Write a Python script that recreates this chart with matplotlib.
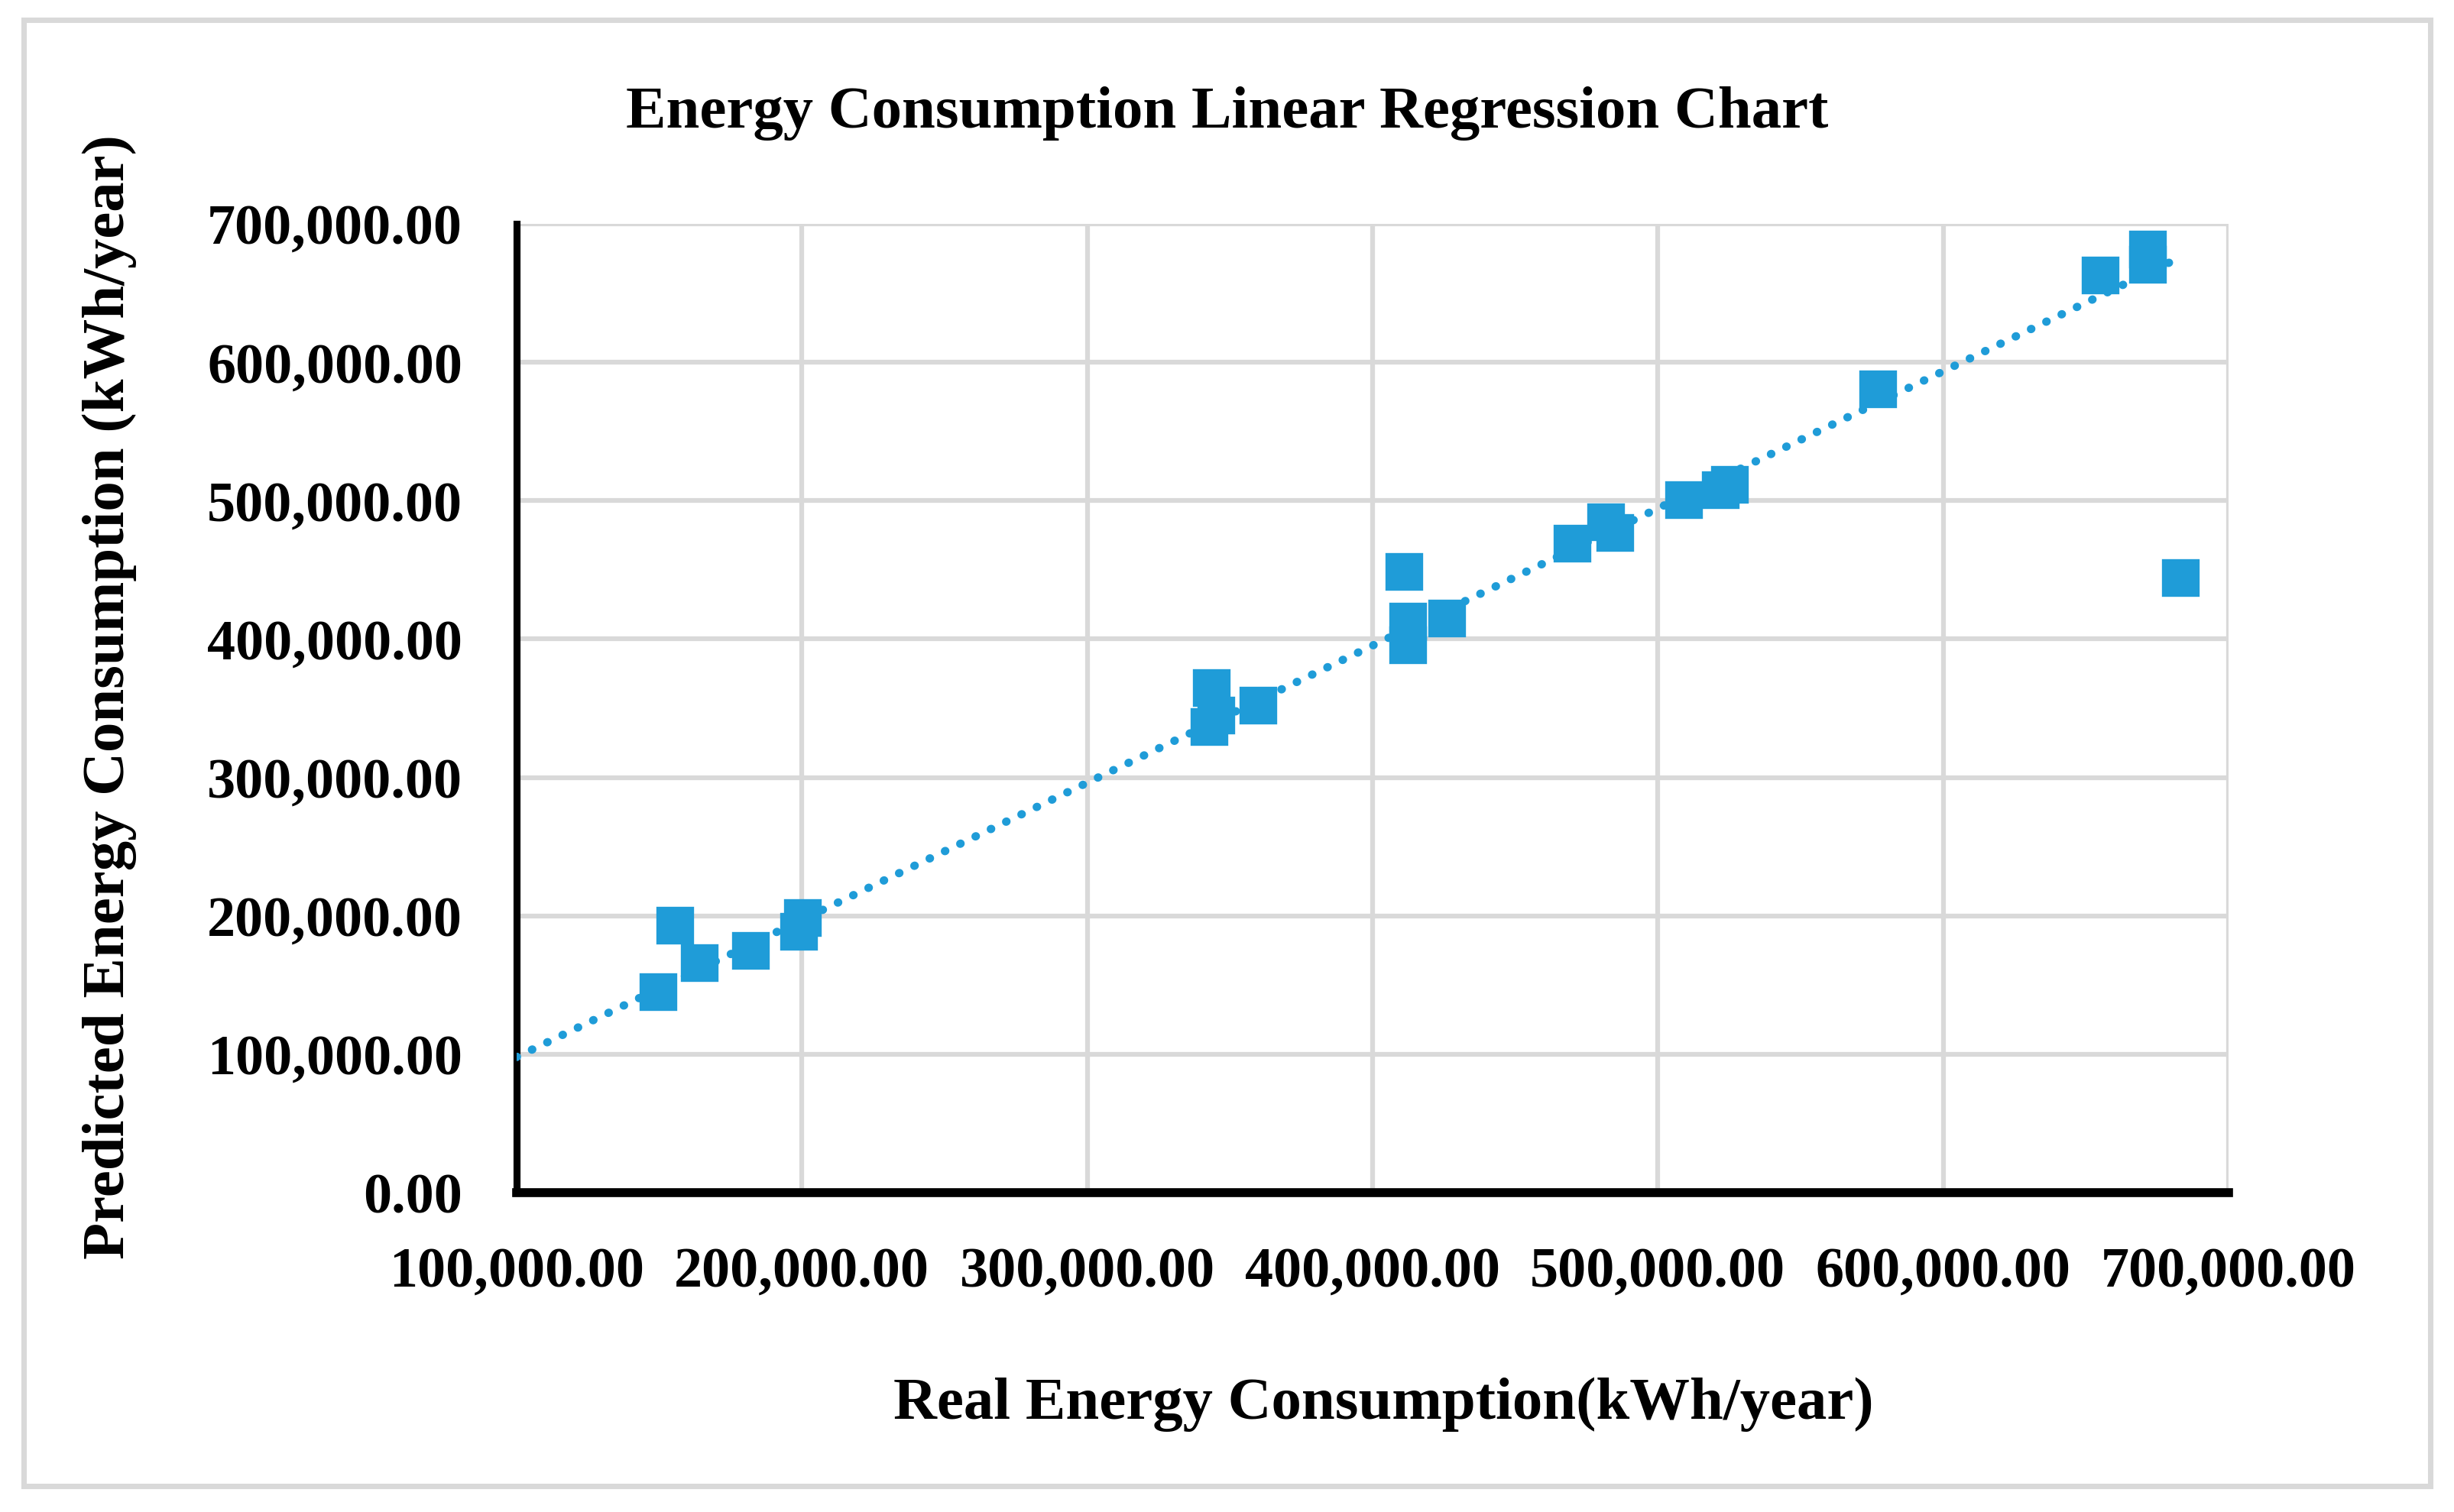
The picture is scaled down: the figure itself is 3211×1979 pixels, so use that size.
import numpy as np
import matplotlib
matplotlib.use("Agg")
import matplotlib.pyplot as plt
from matplotlib.patches import Rectangle
from matplotlib.ticker import FuncFormatter, MultipleLocator

# ---- data ----
real_kwh = [149600, 155500, 163900, 182000, 198800, 200200,
            342600, 345000, 343600, 359700,
            410900, 412300, 412300, 426000,
            470000, 481700, 485000, 509000, 522000, 525000,
            577000, 655000, 671600, 671600, 683000]
pred_kwh = [145000, 193000, 166000, 175000, 189000, 198500,
            337000, 345000, 365000, 352000,
            449000, 396000, 413000, 415000,
            469000, 484600, 477000, 500500, 508000, 512000,
            581000, 663000, 671000, 682000, 444500]
# linear trendline
trend_slope = 0.991
trend_intercept = -1100
trend_x_range = [100000, 680000]

title = "Energy Consumption Linear Regression Chart"
xlabel = "Real Energy Consumption(kWh/year)"
ylabel = "Predicted Energy Consumption (kWh/year)"
x_lim = (100000, 700000)
y_lim = (0, 700000)
tick_step = 100000

blue = "#1F9CD8"
grid_gray = "#D9D9D9"
font = ["Liberation Serif", "DejaVu Serif"]

plt.rcParams["font.family"] = font
plt.rcParams["font.weight"] = "bold"

W, H, DPI = 3211, 1979, 300
fig = plt.figure(figsize=(W / DPI, H / DPI), dpi=DPI)
fig.patch.set_facecolor("white")

# outer border
fig.patches.append(Rectangle((31 / W, 1 - 1945 / H), (3180 - 31) / W, (1945 - 26) / H,
                             transform=fig.transFigure, fill=False,
                             edgecolor=grid_gray, linewidth=1.7))

ax = fig.add_axes([676 / W, 1 - 1561 / H, (2916 - 676) / W, (1561 - 293) / H])

x = np.array(real_kwh, dtype=float)
y = np.array(pred_kwh, dtype=float)
tx = np.array(trend_x_range, dtype=float)
ax.plot(tx, trend_slope * tx + trend_intercept, color=blue, linewidth=2.6,
        linestyle=(0, (0.05, 2.0)), dash_capstyle="round", zorder=3)

ax.plot(x, y, linestyle="none", marker="s", markersize=11, color=blue,
        markeredgecolor=blue, markeredgewidth=0.8, zorder=4)

ax.set_xlim(*x_lim)
ax.set_ylim(*y_lim)
ax.xaxis.set_major_locator(MultipleLocator(tick_step))
ax.yaxis.set_major_locator(MultipleLocator(tick_step))
fmt = FuncFormatter(lambda v, p: f"{v:,.2f}")
ax.xaxis.set_major_formatter(fmt)
ax.yaxis.set_major_formatter(fmt)
ax.grid(True, color=grid_gray, linewidth=1.5, zorder=0)
ax.set_axisbelow(True)

for s in ("top", "right"):
    ax.spines[s].set_visible(False)
ax.spines["left"].set_linewidth(2.2)
ax.spines["bottom"].set_linewidth(2.8)
ax.spines["left"].set_color("black")
ax.spines["bottom"].set_color("black")

ax.tick_params(axis="both", length=0, labelsize=17.8)
ax.tick_params(axis="x", pad=17)
ax.tick_params(axis="y", pad=17)
for lab in ax.get_xticklabels() + ax.get_yticklabels():
    lab.set_fontweight("bold")

fig.text(0.5, 1 - 167 / H, title, ha="center", va="baseline",
         fontsize=18.9, fontweight="bold")
fig.text(1810 / W, 1 - 1857 / H, xlabel, ha="center", va="baseline",
         fontsize=18.9, fontweight="bold")
fig.text(143 / W, 1 - 912 / H, ylabel, ha="center", va="center",
         rotation=90, fontsize=18.9, fontweight="bold")

fig.savefig("out.png", dpi=DPI)
